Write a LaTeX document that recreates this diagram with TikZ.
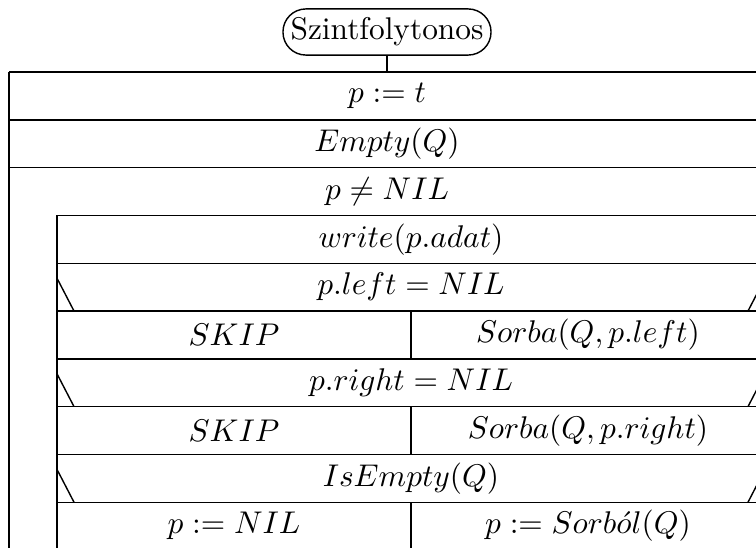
\documentclass[tikz,border=0pt]{standalone}
\usepackage{amsmath, amssymb}
\usetikzlibrary{positioning}

\begin{document}
\begin{tikzpicture}[
        x=0.0112cm, y=-0.0112cm,
        % Stile per il nodo iniziale
        startbox/.style={
            draw,
            rounded corners=7.3pt,
            minimum width=66.3pt,
            minimum height=14.7pt,
            inner sep=1pt
        },
        % Stile per il testo delle righe
        cell/.style={inner sep=0pt, anchor=center},
        line width=0.45pt,
    ]

    \useasboundingbox (0,0) rectangle (756,547);
    \clip (0,0) rectangle (756,547);

    \node[startbox] (start) at (387,32) {Szintfolytonos};
    \coordinate (top) at (387,72);
    \draw (start) -- (top);

    % Blocco esterno
    \foreach \i in {0,1,2}
        \draw (9,72+47.8*\i) -- (765,72+47.8*\i);
    \draw (9,72) -- (9,560);

    \node[cell] (init) at (387,96) {$p := t$};
    \node[cell] (empty) at (387,143.9) {$Empty(Q)$};
    \node[cell] (loop) at (387,191.5) {$p \neq NIL$};

    % Corpo del ciclo
    \foreach \i in {3,...,9}
        \draw (57,72+47.8*\i) -- (765,72+47.8*\i);
    \draw (57,215.4) -- (57,560);
    \draw (765,215.4) -- (765,560);

    % Frecce diagonali delle condizioni
    \foreach \i in {4,6,8} {
        \draw (57,72+47.8*\i+15) -- (74,72+47.8*\i+47.8);
        \draw (765,72+47.8*\i+15) -- (748,72+47.8*\i+47.8);
        \draw (411,72+47.8*\i+47.8) -- (411,72+47.8*\i+95.6);
    }

    \node[cell] (write) at (411,239.3) {$write(p.adat)$};
    \node[cell] (ifleft) at (411,287.1) {$p.left = NIL$};
    \node[cell] (skipa) at (234,334.9) {$SKIP$};
    \node[cell] (sorbaa) at (588,334.9) {$Sorba(Q, p.left)$};
    \node[cell] (ifright) at (411,382.7) {$p.right = NIL$};
    \node[cell] (skipb) at (234,430.5) {$SKIP$};
    \node[cell] (sorbab) at (588,430.5) {$Sorba(Q, p.right)$};
    \node[cell] (ifempty) at (411,478.3) {$IsEmpty(Q)$};
    \node[cell] (setnil) at (234,526.1) {$p := NIL$};
    \node[cell] (sorbol) at (588,526.1) {$p := Sorb\acute{o}l(Q)$};

\end{tikzpicture}
\end{document}
